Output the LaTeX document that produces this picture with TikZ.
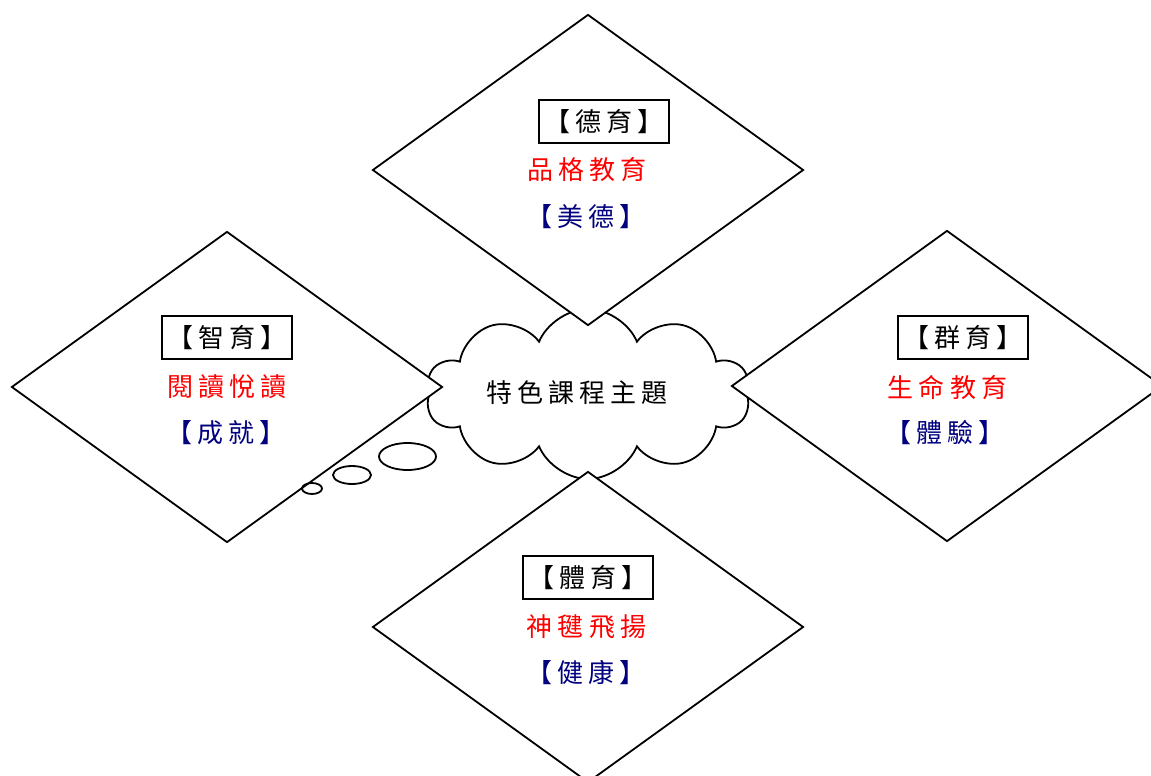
\documentclass[tikz,border=0pt]{standalone}
\usepackage{fontspec}
\usepackage{tikz}
\usetikzlibrary{shapes.geometric,shapes.symbols}
\newfontfamily\cjk[LetterSpace=20]{Noto Sans CJK TC}
\definecolor{lblred}{RGB}{255,0,0}
\definecolor{lblnavy}{RGB}{0,0,128}
\tikzset{
  diamondbox/.style={shape=diamond, draw, fill=white, line width=1.8pt,
    minimum width=431pt, minimum height=311pt, inner sep=0pt},
  titlebox/.style={draw, line width=1.9pt, minimum width=130pt,
    minimum height=43pt, inner sep=0pt, font=\cjk\fontsize{26}{30}\selectfont},
  themetext/.style={text=lblred, inner sep=0pt, font=\cjk\fontsize{26}{30}\selectfont},
  valuetext/.style={text=lblnavy, inner sep=0pt, font=\cjk\fontsize{26}{30}\selectfont}
}
\begin{document}
\begin{tikzpicture}[x=1pt,y=-1pt]
  \useasboundingbox (0,0) rectangle (1151,776);
  \clip (0,0) rectangle (1151,776);
  \node [cloud, cloud puffs=10, cloud puff arc=135, aspect=2, draw, fill=white,
    line width=1.8pt, minimum width=324pt, minimum height=170pt, inner sep=0pt]
    (theme) at (588,394) {};
  \node [diamondbox] (deyu) at (588,170) {};
  \node [diamondbox] (zhiyu) at (227,387) {};
  \node [diamondbox] (qunyu) at (947,386) {};
  \node [diamondbox] (tiyu) at (588,627) {};
  \draw [line width=1.8pt] (407.5,456.5) ellipse [x radius=28.5pt, y radius=13.5pt];
  \draw [line width=1.8pt] (352,475) ellipse [x radius=19pt, y radius=9pt];
  \draw [line width=1.8pt] (312,488.5) ellipse [x radius=10pt, y radius=5.5pt];
  \node [inner sep=0pt, font=\cjk\fontsize{26}{30}\selectfont] (themetitle) at (577,393) {特色課程主題};
  \node [titlebox] (deyutitle) at (604,121.5) {【德育】};
  \node [themetext] (deyutheme) at (587,170) {品格教育};
  \node [valuetext] (deyuvalue) at (586,217) {【美德】};
  \node [titlebox] (zhiyutitle) at (227,337.5) {【智育】};
  \node [themetext] (zhiyutheme) at (227,387) {閱讀悅讀};
  \node [valuetext] (zhiyuvalue) at (226,433) {【成就】};
  \node [titlebox] (qunyutitle) at (963,337.5) {【群育】};
  \node [themetext] (qunyutheme) at (947.5,388) {生命教育};
  \node [valuetext] (qunyuvalue) at (945,433) {【體驗】};
  \node [titlebox] (tiyutitle) at (588,577.5) {【體育】};
  \node [themetext] (tiyutheme) at (586.5,627) {神毽飛揚};
  \node [valuetext] (tiyuvalue) at (586,673) {【健康】};
\end{tikzpicture}
\end{document}
